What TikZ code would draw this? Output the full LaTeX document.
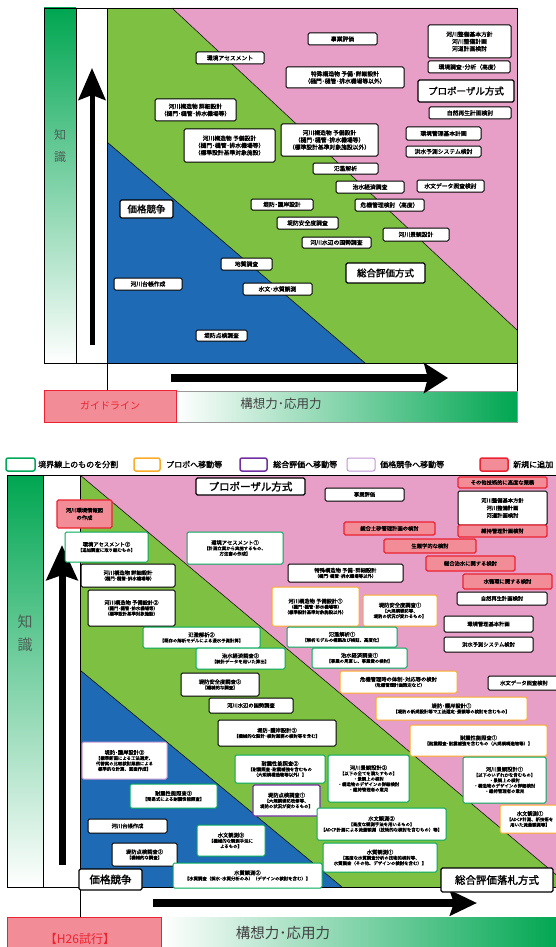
\documentclass[tikz,border=0pt]{standalone}
\usepackage{fontspec}
\setmainfont{Noto Sans CJK JP}
\newfontfamily\heavy{Noto Sans CJK JP}[FakeBold=1.6]
\usetikzlibrary{arrows.meta}
\definecolor{pk}{RGB}{231,158,199}
\definecolor{gn}{RGB}{125,192,66}
\definecolor{bl}{RGB}{30,106,180}
\definecolor{dg}{RGB}{0,166,81}
\definecolor{lgn}{RGB}{0,168,90}
\definecolor{org}{RGB}{250,172,40}
\definecolor{pur}{RGB}{112,48,160}
\definecolor{lpur}{RGB}{195,150,210}
\definecolor{rd}{RGB}{235,35,50}
\definecolor{rdf}{RGB}{242,140,150}
\definecolor{txg}{RGB}{75,95,85}
\newcommand\myft{\heavy\fontsize{5.8}{7.2}\selectfont}
\newcommand\myfd{\heavy\fontsize{4.4}{5.4}\selectfont}
\newcommand\myfm{\heavy\fontsize{5.3}{7.5}\selectfont}
\newcommand\ttl[1]{{\fontsize{5.3}{6.5}\selectfont #1}}
\newcommand\mybox[7]{\node[#6,minimum width={(#4)-(#2)},minimum height={(#5)-(#3)}] (#1) at ({((#2)+(#4))/2},{((#3)+(#5))/2}) {#7};}
\tikzset{
  tb/.style={draw=black,fill=white,rounded corners=1.5pt,line width=1pt,inner sep=0.3pt,outer sep=0pt,align=center,font=\myft},
  tbig/.style={tb,line width=1.1pt,font=\heavy\fontsize{9.5}{11}\selectfont},
  bb/.style={draw=black,fill=white,rounded corners=1.5pt,line width=1pt,inner sep=0.3pt,outer sep=0pt,align=center,font=\myfd},
  bg/.style={bb,draw=lgn},
  bo/.style={bb,draw=org},
  bp/.style={bb,draw=pur,line width=1.3pt},
  blp/.style={bb,draw=lpur},
  br/.style={bb,draw=rd,fill=rdf,line width=1.3pt},
  bbig/.style={bb,line width=1.1pt,font=\heavy\fontsize{10.5}{12}\selectfont},
  lgbox/.style={draw,fill=white,rounded corners=2pt,line width=1.5pt,inner sep=0pt},
  lgtxt/.style={anchor=west,inner sep=0pt,font=\heavy\fontsize{8}{9}\selectfont},
  frame/.style={draw=black,line width=0.6pt},
}
\begin{document}
\begin{tikzpicture}[x=1pt,y=-1pt]
\useasboundingbox (0,0) rectangle (555,947);
\fill[white] (0,0) rectangle (555,947);
% ===================== TOP PANEL =====================
\fill[gn] (107,8) rectangle (517,363);
\fill[pk] (172,8) -- (517,8) -- (517,330) -- cycle;
\fill[bl] (107,142) -- (365,363) -- (107,363) -- cycle;
\draw[line width=0.5pt] (172,8) -- (517,330);
\draw[line width=0.5pt] (107,142) -- (365,363);
\shade[top color=dg,middle color=dg!40,bottom color=white] (44,8) rectangle (76,363);
\draw[frame] (44,8) rectangle (76,363);
\fill[white] (76,8) rectangle (107,363);
\draw[frame] (76,8) rectangle (107,363);
\draw[frame] (44,8) rectangle (517,363);
\draw[frame,fill=white] (107,363) rectangle (517,391);
\shade[left color=white,middle color=dg!40,right color=dg] (176,391) rectangle (517,422);
\draw[frame,draw=black!40] (176,391) rectangle (517,422);
\node[draw=rd,fill=rdf,line width=0.8pt,minimum width=132,minimum height=32,inner sep=0pt,text=rd,font=\fontsize{10}{12}\selectfont] (gl) at (110,406) {ガイドライン};
\node[inner sep=0pt,text=black!75,font=\fontsize{12.5}{14}\selectfont] (kt1) at (281,404) {構想力･応用力};
\node[inner sep=0pt,align=center,text=txg,font=\fontsize{12}{22}\selectfont] (ch1) at (60,146) {知\\識};
\coordinate (ua1) at (92,345);
\coordinate (ub1) at (92,68);
\draw[line width=5pt,-{Stealth[length=32pt,width=27pt,inset=5pt]}] (ua1) -- (ub1);
\coordinate (ra1) at (171,378);
\coordinate (rb1) at (448,378);
\draw[line width=8pt,-{Stealth[length=24pt,width=30pt,inset=4pt]}] (ra1) -- (rb1);
% top boxes
\mybox{t1}{308}{33}{377}{45}{tb}{事業評価}
\mybox{t2}{428}{25}{511}{58}{tb}{河川整備基本方針\\河川整備計画\\河道計画検討}
\mybox{t3}{428}{61}{510}{73}{tb}{環境調査･分析（高度）}
\mybox{t4}{196}{52}{264}{64}{tb}{環境アセスメント}
\mybox{t5}{286}{67}{404}{88}{tb}{特殊構造物\ 予備･詳細設計\\（樋門･樋管･排水機場等以外）}
\mybox{t6}{418}{80}{514}{102}{tbig}{プロポーザル方式}
\mybox{t7}{429}{107}{511}{119}{tb}{自然再生計画検討}
\mybox{t8}{155}{99}{236}{121}{tb}{河川構造物\ 詳細設計\\（樋門･樋管･排水機場等）}
\mybox{t9}{184}{129}{275}{162}{tb}{河川構造物\ 予備設計\\（樋門･樋管･排水機場等）\\（標準設計基準対象施設）}
\mybox{t10}{281}{124}{378}{156}{tb}{河川構造物\ 予備設計\\（樋門･樋管･排水機場等）\\（標準設計基準対象施設以外）}
\mybox{t11}{406}{127}{481}{140}{tb}{環境管理基本計画}
\mybox{t12}{406}{146}{481}{157}{tb}{洪水予測システム検討}
\mybox{t13}{313}{163}{378}{174}{tb}{氾濫解析}
\mybox{t14}{336}{181}{404}{193}{tb}{治水経済調査}
\mybox{t15}{417}{180}{484}{192}{tb}{水文データ照査検討}
\mybox{t16}{120}{200}{173}{218}{tbig}{価格競争}
\mybox{t17}{251}{199}{313}{210}{tb}{堤防･護岸設計}
\mybox{t18}{355}{199}{424}{211}{tb}{危機管理検討（高度）}
\mybox{t19}{277}{217}{338}{229}{tb}{堤防安全度調査}
\mybox{t20}{383}{228}{449}{241}{tb}{河川景観設計}
\mybox{t21}{302}{237}{371}{248}{tb}{河川水辺の国勢調査}
\mybox{t22}{346}{263}{425}{283}{tbig}{総合評価方式}
\mybox{t23}{221}{258}{272}{270}{tb}{地質調査}
\mybox{t24}{114}{278}{182}{290}{tb}{河川台帳作成}
\mybox{t25}{243}{283}{312}{295}{tb}{水文･水質観測}
\mybox{t26}{196}{330}{247}{341}{tb}{堤防点検調査}
% ===================== LEGEND =====================
\mybox{lg1}{6}{458}{35}{471}{lgbox,draw=lgn}{}
\node[lgtxt] (lt1) at (38,464.5) {境界線上のものを分割};
\mybox{lg2}{134}{458}{160}{471}{lgbox,draw=org}{}
\node[lgtxt] (lt2) at (166,464.5) {プロポへ移動等};
\mybox{lg3}{240}{458}{267}{471}{lgbox,draw=pur}{}
\node[lgtxt] (lt3) at (273,464.5) {総合評価へ移動等};
\mybox{lg4}{347}{458}{375}{471}{lgbox,draw=lpur,line width=1pt}{}
\node[lgtxt] (lt4) at (380,464.5) {価格競争へ移動等};
\mybox{lg5}{480}{458}{508}{471}{lgbox,draw=rd,fill=rdf}{}
\node[lgtxt] (lt5) at (513,464.5) {新規に追加};
% ===================== BOTTOM PANEL =====================
\fill[gn] (80,475) rectangle (560,887);
\fill[pk] (80,475) -- (560,475) -- (560,878) -- cycle;
\fill[bl] (80,670) -- (342,887) -- (80,887) -- cycle;
\draw[line width=0.5pt] (80,475) -- (560,878);
\draw[line width=0.5pt] (80,670) -- (342,887);
\shade[top color=dg,middle color=dg!45,bottom color=white] (7,475) rectangle (43,887);
\draw[frame] (7,475) rectangle (43,887);
\fill[white] (43,475) rectangle (80,887);
\draw[frame] (43,475) rectangle (80,887);
\draw[frame] (7,475) rectangle (560,887);
\draw[frame,fill=white] (80,887) rectangle (560,917);
\shade[left color=white,middle color=dg!40,right color=dg] (161,917) rectangle (560,950);
\node[draw=rd,fill=rdf,line width=0.8pt,minimum width=154,minimum height=34,inner sep=0pt] (h26) at (84,934) {};
\node[inner sep=0pt,text=rd,font=\fontsize{12}{14}\selectfont] (h26t) at (80,939) {【H26試行】};
\node[inner sep=0pt,text=black!75,font=\fontsize{14.5}{16}\selectfont] (kt2) at (283,933) {構想力･応用力};
\node[inner sep=0pt,align=center,text=txg,font=\fontsize{15}{23}\selectfont] (ch2) at (25,633) {知\\識};
\coordinate (ua2) at (62,865);
\coordinate (ub2) at (62,545);
\draw[line width=7pt,-{Stealth[length=35pt,width=31pt,inset=5pt]}] (ua2) -- (ub2);
\coordinate (ra2) at (153,903);
\coordinate (rb2) at (477,903);
\draw[line width=8pt,-{Stealth[length=27pt,width=25pt,inset=4pt]}] (ra2) -- (rb2);
% bottom boxes
\mybox{b1}{196}{478}{305}{495}{bbig}{プロポーザル方式}
\mybox{b2}{325}{488}{404}{501}{bb}{\ttl{事業評価}}
\mybox{b3}{458}{477}{547}{488}{br}{\ttl{その他技術的に高度な業務}}
\mybox{b4}{458}{491}{547}{525}{bb,font=\myfm}{河川整備基本方針\\河川整備計画\\河道計画検討}
\mybox{b5}{458}{525}{547}{537}{br}{\ttl{維持管理計画検討}}
\mybox{b6}{344}{522}{435}{535}{br}{\ttl{総合土砂管理計画の検討}}
\mybox{b7}{384}{539}{476}{553}{br}{\ttl{生態学的な検討}}
\mybox{b8}{426}{556}{515}{571}{br}{\ttl{総合治水に関する検討}}
\mybox{b9}{463}{574}{552}{589}{br}{\ttl{水循環に関する検討}}
\mybox{b10}{457}{592}{547}{605}{bb}{\ttl{自然再生計画検討}}
\mybox{b11}{444}{616}{533}{632}{bb}{\ttl{環境管理基本計画}}
\mybox{b12}{444}{637}{533}{652}{bb}{\ttl{洪水予測システム検討}}
\mybox{b13}{488}{676}{560}{690}{bb}{\ttl{水文データ照査検討}}
\mybox{b14}{57}{500}{112}{528}{br,font=\myfm}{河川環境情報図\\の作成}
\mybox{b15}{65}{532}{148}{562}{bg}{\ttl{環境アセスメント②}\\【追加調査に取り組むもの】}
\mybox{b16}{187}{532}{283}{564}{bg}{\ttl{環境アセスメント①}\\【計画立案から実施するもの、\\方法書の作成】}
\mybox{b17}{288}{564}{403}{582}{bb}{\ttl{特殊構造物\ 予備･詳細設計}\\（樋門･樋管･排水機場等以外）}
\mybox{b18}{81}{564}{175}{587}{bb}{\ttl{河川構造物\ 詳細設計}\\（樋門･樋管･排水機場等）}
\mybox{b19}{88}{590}{175}{626}{bb}{\ttl{河川構造物\ 予備設計②}\\（樋門･樋管･排水機場等）\\（標準設計基準対象施設）}
\mybox{b20}{272}{587}{359}{626}{bo}{\ttl{河川構造物\ 予備設計①}\\（樋門･樋管･排水機場等）\\（標準設計基準対象施設以外）}
\mybox{b21}{363}{595}{437}{626}{bo}{\ttl{堤防安全度調査①}\\【大規模堤防等、\\堤防の状況が変わるもの】}
\mybox{b22}{287}{627}{397}{647}{bg}{\ttl{氾濫解析①}\\【解析モデルの構築及び検証、高度化】}
\mybox{b23}{143}{627}{260}{648}{bg}{\ttl{氾濫解析②}\\【既存の解析モデルによる浸水予測計算】}
\mybox{b24}{312}{648}{407}{668}{bg}{\ttl{治水経済調査①}\\【事業の見直し、事業費の検討】}
\mybox{b25}{196}{648}{285}{669}{bg}{\ttl{治水経済調査②}\\【統計データを用いた算出】}
\mybox{b26}{340}{671}{457}{693}{bo}{\ttl{危機管理時の体制･対応等の検討}\\（危機管理計画策定など）}
\mybox{b27}{181}{673}{259}{696}{bb}{\ttl{堤防安全度調査②}\\【機械的な調査】}
\mybox{b28}{209}{698}{293}{713}{bb}{\ttl{河川水辺の国勢調査}}
\mybox{b29}{376}{697}{527}{720}{bo}{\ttl{堤防･護岸設計①}\\【堤防の新規設計等で工法選定･景観等の検討を含むもの】}
\mybox{b30}{218}{720}{336}{746}{bb}{\ttl{堤防･護岸設計②}\\【機械的な設計･検討業務の検討等を含む】}
\mybox{b31}{410}{725}{547}{756}{bo}{\ttl{耐震性能照査①}\\【耐震照査･耐震補強を含むもの（大規模構造物等）】}
\mybox{b32}{82}{742}{167}{779}{blp}{\ttl{堤防･護岸設計③}\\【標準断面による工法選定、\\代替案の比較検討業務による\\標準的な計算、図面作成】}
\mybox{b33}{235}{755}{325}{783}{bg}{\ttl{耐震性能照査②}\\【耐震照査･耐震補強を含むもの\\（大規模構造物等以外）】}
\mybox{b34}{328}{755}{409}{802}{bg}{\ttl{河川景観設計②}\\【以下の全てを満たすもの】\\・景観上の検討\\・構造物のデザインの詳細検討\\・維持管理者の意見}
\mybox{b35}{463}{757}{546}{803}{bg}{\ttl{河川景観設計①}\\【以下のいずれかを含むもの】\\・景観上の検討\\・構造物のデザインの詳細検討\\・維持管理者の意見}
\mybox{b36}{130}{784}{217}{808}{bg}{\ttl{耐震性能照査③}\\【簡易式による耐震性能照査】}
\mybox{b37}{253}{785}{320}{816}{bp}{\ttl{堤防点検調査①}\\【大規模堤防改修等、\\堤防の状況が変わるもの】}
\mybox{b38}{500}{805}{560}{833}{bo}{\ttl{水文観測①}\\【ADCP計測、新技術を\\用いた流量観測等】}
\mybox{b39}{317}{808}{446}{840}{bg}{\ttl{水文観測②}\\【高度な観測手法を用いるもの】\\【ADCP計測による流量観測（技術的な検討を含むもの）等】}
\mybox{b40}{88}{819}{167}{833}{bb}{\ttl{河川台帳作成}}
\mybox{b41}{197}{825}{265}{856}{bg}{\ttl{水文観測③}\\【機械的な観測手法に\\よるもの】}
\mybox{b42}{112}{843}{177}{866}{bb}{\ttl{堤防点検調査②}\\【機械的な調査】}
\mybox{b43}{323}{843}{437}{872}{bg}{\ttl{水質観測①}\\【高度な水質調査分析の技術的検討等、\\水質調査（その他、デザインの検討を含む）】}
\mybox{b44}{173}{863}{322}{888}{bg}{\ttl{水質観測②}\\【水質調査（採水･水質分析のみ）（デザインの検討を含む）】}
\mybox{b45}{79}{869}{142}{890}{bbig}{価格競争}
\mybox{b46}{441}{868}{553}{892}{bbig}{総合評価落札方式}
\end{tikzpicture}
\end{document}
